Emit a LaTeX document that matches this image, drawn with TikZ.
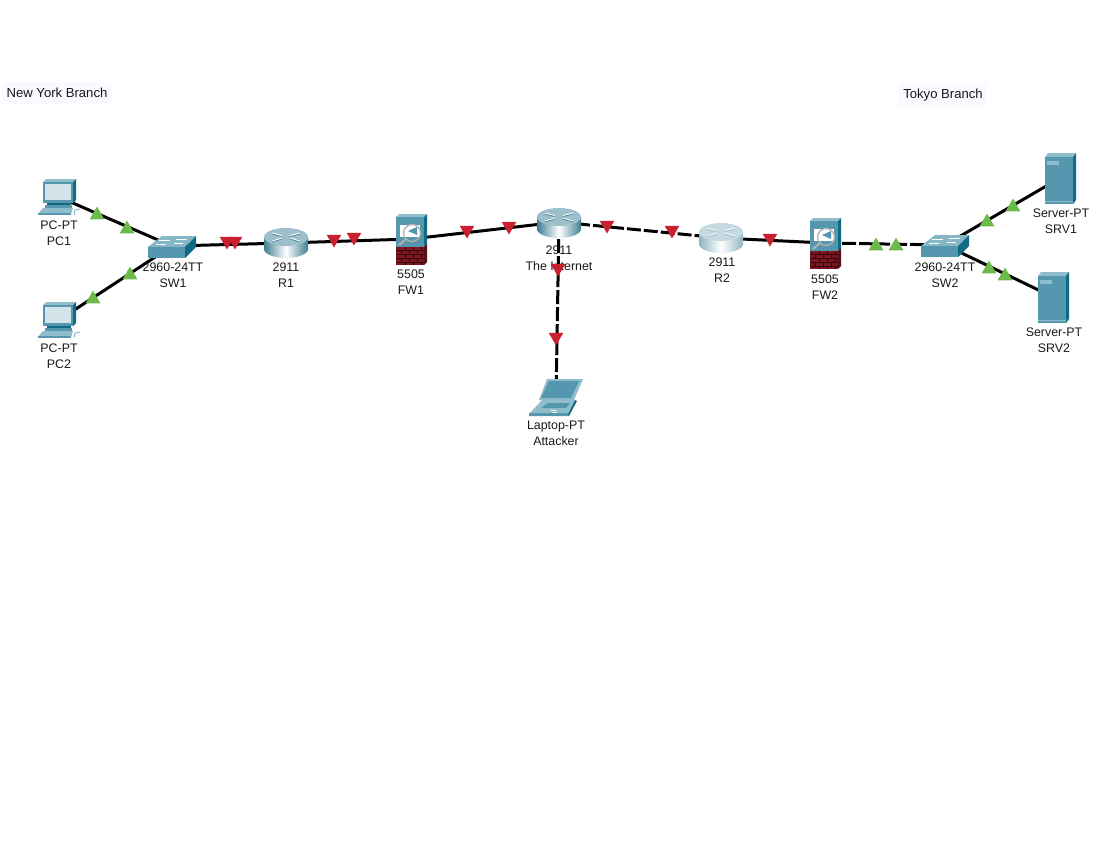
\documentclass[tikz,border=0pt]{standalone}
\usepackage{fontspec}
\setmainfont{Liberation Sans}
\usetikzlibrary{shapes.geometric}

\definecolor{tealfront}{HTML}{5497AE}
\definecolor{tealdark}{HTML}{0F6A82}
\definecolor{teallight}{HTML}{8FBDCC}
\definecolor{screenpale}{HTML}{D3E3EA}
\definecolor{brickred}{HTML}{7B1520}
\definecolor{markgreen}{HTML}{6CBB4A}
\definecolor{markred}{HTML}{C8202F}
\definecolor{notepale}{HTML}{F9FAFF}
\definecolor{routerside}{HTML}{3F7F93}
\definecolor{routertop}{HTML}{9DBECB}
\definecolor{routerpaleside}{HTML}{8FB6C2}
\definecolor{routerpaletop}{HTML}{C4DAE0}

\tikzset{
  devpoint/.style={inner sep=0pt, minimum size=0pt},
  devlabel/.style={align=center, inner sep=0pt, font=\fontsize{12.4pt}{16pt}\selectfont, text=black!90},
  notelabel/.style={fill=notepale, inner xsep=4pt, inner ysep=6pt, font=\fontsize{13.1pt}{16pt}\selectfont, text=black!90},
  cable/.style={line width=3pt, black},
  cabledash/.style={cable, dash pattern=on 14pt off 3pt},
  linkup/.style={regular polygon, regular polygon sides=3, fill=markgreen, minimum size=17pt, inner sep=0pt, yshift=-2pt},
  linkdown/.style={regular polygon, regular polygon sides=3, shape border rotate=180, fill=markred, minimum size=17pt, inner sep=0pt, yshift=2pt},
  pics/pcicon/.style={code={
    \fill[teallight] (-16,-15) -- (-13,-18) -- (17,-18) -- (14,-15) -- cycle;
    \fill[tealfront] (-16,-15) rectangle (14,6);
    \fill[tealdark] (14,-15) -- (17,-18) -- (17,3) -- (14,6) -- cycle;
    \fill[screenpale] (-14,-13) rectangle (12,3);
    \fill[tealdark] (-12,6) rectangle (12,8);
    \fill[tealfront] (-14,8) rectangle (13,11);
    \fill[teallight] (-16,11) -- (14,11) -- (12,17) -- (-21,17) -- cycle;
    \fill[tealfront] (-21,16) rectangle (12,18);
    \draw[teallight, line width=1pt] (15,18) -- (16,13) -- (21,12);
  }},
  pics/switchicon/.style={code={
    \fill[teallight!85!tealfront] (-24,1) -- (-10,-10) -- (24,-10) -- (13,1) -- cycle;
    \fill[tealfront] (-24,1) rectangle (13,12);
    \fill[tealdark] (13,1) -- (24,-10) -- (24,1) -- (13,12) -- cycle;
    \draw[white, line width=.8pt] (-13,-6) -- (-2,-6) (4,-7) -- (15,-7) (-16,-2) -- (-6,-2) (2,-3) -- (11,-3);
  }},
  pics/routericon/.style 2 args={code={
    \shade[left color=#1, right color=#1, middle color=white] (-22,-6) -- (-22,6) arc[start angle=180, end angle=0, x radius=22, y radius=9] -- (22,-6) -- cycle;
    \fill[#2] (0,-6) ellipse[x radius=22, y radius=9];
    \draw[#1, line width=1.6pt] (-14,-9.5) -- (-4,-7) (14,-9.5) -- (4,-7) (-14,-1.5) -- (-4,-4.5) (14,-1.5) -- (4,-4.5);
    \draw[white, line width=1pt] (-14,-10) -- (-4,-7.5) (14,-10) -- (4,-7.5) (-14,-2) -- (-4,-5) (14,-2) -- (4,-5);
  }},
  pics/firewallicon/.style={code={
    \fill[teallight] (-15,-22) -- (-12,-25) -- (16,-25) -- (13,-22) -- cycle;
    \fill[tealfront] (-15,-22) rectangle (13,8);
    \fill[tealdark] (13,-22) -- (16,-25) -- (16,5) -- (13,8) -- cycle;
    \fill[white] (-11,-14) rectangle (9,-2);
    \fill[tealfront] (-3,-8) -- (6,-12) -- (6,-4) -- cycle;
    \draw[black!30, line width=1.3pt] (1,-6) circle[radius=8.5];
    \draw[black!30, line width=2pt] (-5,0) -- (-12,6);
    \fill[brickred] (-15,8) rectangle (13,26);
    \fill[brickred!70!black] (13,8) -- (16,5) -- (16,23) -- (13,26) -- cycle;
    \foreach \yb in {11,15,19,23} \draw[brickred!40!black, line width=.5pt] (-15,\yb) -- (13,\yb);
    \foreach \xb in {-10,-2,6} \draw[brickred!40!black, line width=.5pt] (\xb,11) -- (\xb,15) (\xb,19) -- (\xb,23);
    \foreach \xb in {-6,2,10} \draw[brickred!40!black, line width=.5pt] (\xb,8) -- (\xb,11) (\xb,15) -- (\xb,19) (\xb,23) -- (\xb,26);
  }},
  pics/servericon/.style={code={
    \fill[teallight] (-15,-21) -- (-12,-25) -- (16,-25) -- (13,-21) -- cycle;
    \fill[tealfront] (-15,-21) rectangle (13,26);
    \fill[tealdark] (13,-21) -- (16,-25) -- (16,22) -- (13,26) -- cycle;
    \fill[teallight] (-13,-17) rectangle (-1,-13);
    \draw[teallight, line width=.6pt] (-15,23) -- (13,23);
  }},
  pics/laptopicon/.style={code={
    \fill[teallight] (-9,-19) -- (27,-19) -- (18,2) -- (-17,2) -- cycle;
    \fill[tealfront] (-7,-17) -- (23,-17) -- (15,0) -- (-15,0) -- cycle;
    \fill[teallight] (-14,2) -- (19,2) -- (12,16) -- (-27,16) -- cycle;
    \fill[tealfront] (-8,5) -- (14,5) -- (10,10) -- (-15,10) -- cycle;
    \fill[tealfront] (-27,15) -- (12,15) -- (13,18) -- (-27,18) -- cycle;
    \fill[tealdark] (12,16) -- (19,2) -- (21,3) -- (13,18) -- cycle;
    \draw[white, line width=.7pt] (-5,12) -- (0,12) (-4,14) -- (1,14);
  }},
}

\begin{document}
\begin{tikzpicture}[x=1pt, y=-1pt]
  \useasboundingbox (0,0) rectangle (1102,843);

  \node[notelabel] (nybranch) at (57,93) {New York Branch};
  \node[notelabel] (tkbranch) at (943,95) {Tokyo Branch};

  \node[devlabel] (lblpc1) at (59,233) {PC-PT\\PC1};
  \node[devlabel] (lblpc2) at (59,356) {PC-PT\\PC2};
  \node[devlabel] (lblsw1) at (173,275) {2960-24TT\\SW1};
  \node[devlabel] (lblr1) at (286,275) {2911\\R1};
  \node[devlabel] (lblfw1) at (411,282) {5505\\FW1};
  \node[devlabel] (lblnet) at (559,258) {2911\\The Internet};
  \node[devlabel] (lbllap) at (556,433) {Laptop-PT\\Attacker};
  \node[devlabel] (lblr2) at (722,270) {2911\\R2};
  \node[devlabel] (lblfw2) at (825,287) {5505\\FW2};
  \node[devlabel] (lblsw2) at (945,275) {2960-24TT\\SW2};
  \node[devlabel] (lblsrv1) at (1061,221) {Server-PT\\SRV1};
  \node[devlabel] (lblsrv2) at (1054,340) {Server-PT\\SRV2};

  \node[devpoint] (pc1) at (59,197) {};
  \node[devpoint] (pc2) at (59,320) {};
  \node[devpoint] (sw1) at (172,246) {};
  \node[devpoint] (r1) at (286,243) {};
  \node[devpoint] (fw1) at (411,239) {};
  \node[devpoint] (inet) at (559,222) {};
  \node[devpoint] (lap) at (556,398) {};
  \node[devpoint] (r2) at (721,238) {};
  \node[devpoint] (fw2) at (825,243) {};
  \node[devpoint] (sw2) at (945,245) {};
  \node[devpoint] (srv1) at (1060,178) {};
  \node[devpoint] (srv2) at (1053,297) {};

  \draw[cable] (pc1) -- (sw1);
  \draw[cable] (pc2) -- (sw1);
  \draw[cable] (sw1) -- (r1);
  \draw[cable] (r1) -- (fw1);
  \draw[cable] (fw1) -- (inet);
  \draw[cabledash] (inet) -- (r2);
  \draw[cabledash] (inet) -- (lap);
  \draw[cable] (r2) -- (fw2);
  \draw[cabledash] (fw2) -- (sw2);
  \draw[cable] (sw2) -- (srv1);
  \draw[cable] (sw2) -- (srv2);

  \pic at (pc1) {pcicon};
  \pic at (pc2) {pcicon};
  \pic at (sw1) {switchicon};
  \pic at (r1) {routericon={routerside}{routertop}};
  \pic at (fw1) {firewallicon};
  \pic at ([yshift=-1pt]inet) {routericon={routerside}{routertop}};
  \pic at (lap) {laptopicon};
  \pic at (r2) {routericon={routerpaleside}{routerpaletop}};
  \pic at (fw2) {firewallicon};
  \pic at (sw2) {switchicon};
  \pic at (srv1) {servericon};
  \pic at (srv2) {servericon};

  \node[linkup] (up1) at (97,213) {};
  \node[linkup] (up2) at (127,227) {};
  \node[linkup] (up3) at (93,297) {};
  \node[linkup] (up4) at (130,273) {};
  \node[linkup] (up5) at (876,244) {};
  \node[linkup] (up6) at (896,244) {};
  \node[linkup] (up7) at (987,220) {};
  \node[linkup] (up8) at (1013,205) {};
  \node[linkup] (up9) at (989,267) {};
  \node[linkup] (up10) at (1005,274) {};

  \node[linkdown] (dn1) at (227,243) {};
  \node[linkdown] (dn2) at (235,243) {};
  \node[linkdown] (dn3) at (334,241) {};
  \node[linkdown] (dn4) at (354,239) {};
  \node[linkdown] (dn5) at (467,232) {};
  \node[linkdown] (dn6) at (509,228) {};
  \node[linkdown] (dn7) at (558,270) {};
  \node[linkdown] (dn8) at (556,339) {};
  \node[linkdown] (dn9) at (607,227) {};
  \node[linkdown] (dn10) at (672,232) {};
  \node[linkdown] (dn11) at (770,240) {};
\end{tikzpicture}
\end{document}
